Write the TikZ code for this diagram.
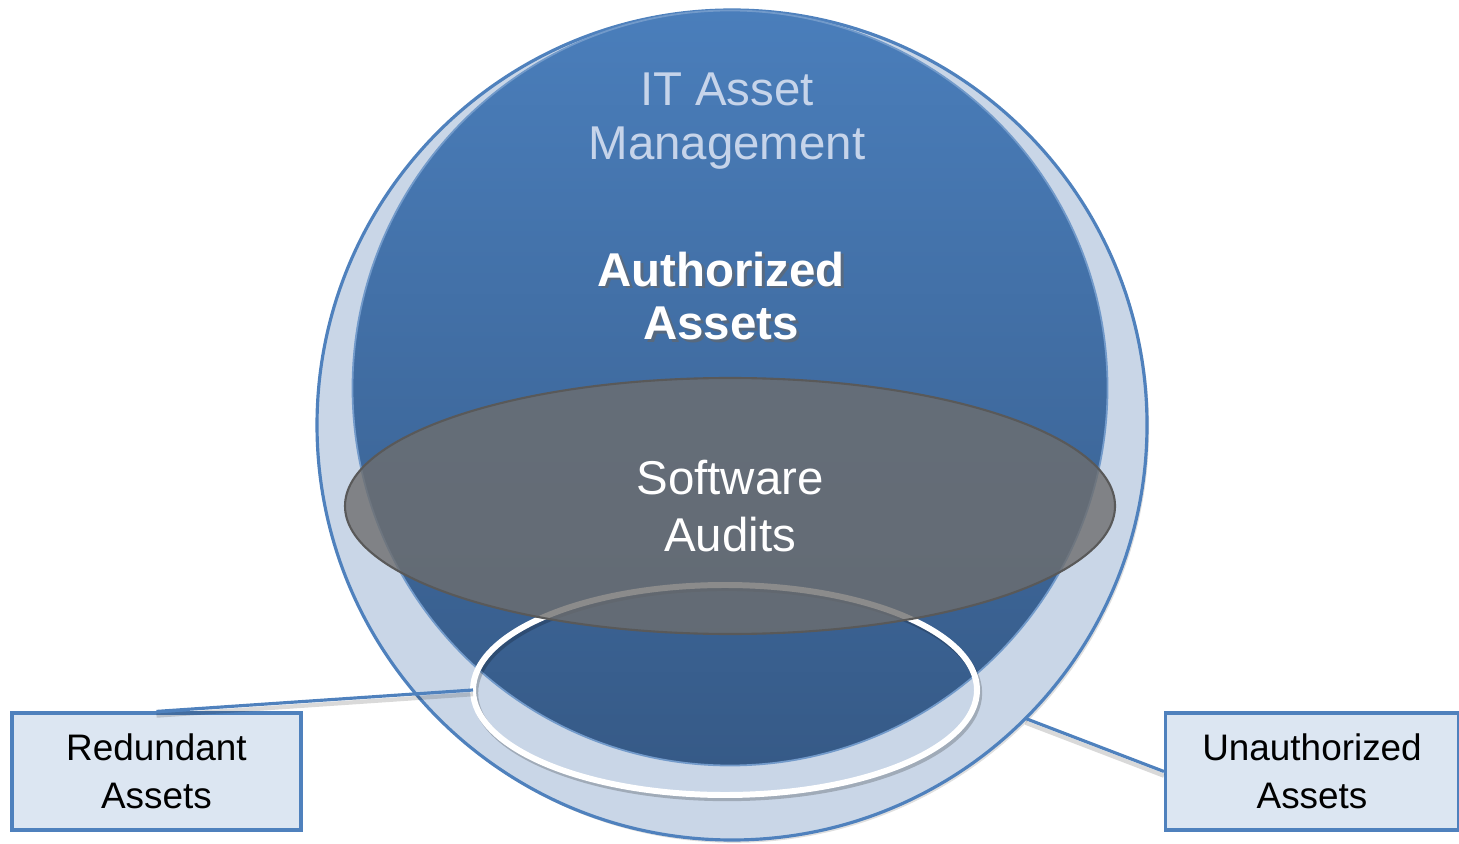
\documentclass[tikz,border=0pt]{standalone}
\usepackage{fontspec}
\setmainfont{Liberation Sans}
\usepackage{tikz}
\usetikzlibrary{positioning,shapes.geometric,shadows}
\definecolor{itblue}{HTML}{4F81BD}
\definecolor{ringfill}{HTML}{C9D6E7}
\definecolor{boxfill}{HTML}{DCE6F2}
\definecolor{authtop}{HTML}{4A7EBB}
\definecolor{authbot}{HTML}{365A87}
\definecolor{audgray}{HTML}{6E6E6E}
\definecolor{itamtext}{HTML}{C6D4EA}

\begin{document}
\begin{tikzpicture}[
    bigtext/.style={font={\fontsize{13.5}{15.2}\selectfont}, align=center},
    boxtext/.style={font={\fontsize{10.5}{13.6}\selectfont}, align=center},
    labelbox/.style={draw=itblue, line width=0.9pt, fill=boxfill, boxtext,
          minimum width=2.89cm, minimum height=1.17cm, inner sep=0pt},
    link/.style={itblue, line width=0.9pt}
  ]
    \useasboundingbox (0,0) rectangle (14.59,8.43);
    % outer ring
    \node[circle, draw=itblue, line width=0.9pt, fill=ringfill,
          minimum size=8.30cm, inner sep=0pt, outer sep=0pt,
          drop shadow={shadow xshift=0.6pt, shadow yshift=-0.8pt, opacity=0.25}]
          (itam) at (7.32,4.18) {};
    % authorized disc
    \node[circle, draw=itblue!80, line width=0.5pt, top color=authtop, bottom color=authbot,
          minimum size=7.55cm, inner sep=0pt, outer sep=0pt]
          (auth) at (7.30,4.55) {};
    % redundant ring (shadow first)
    \draw[black, opacity=0.2, line width=1.8pt] (7.27,1.50) ellipse (2.52cm and 1.05cm);
    \node[ellipse, draw=white, line width=1.7pt, minimum width=5.04cm,
          minimum height=2.10cm, inner sep=0pt, outer sep=0pt]
          (redring) at (7.25,1.53) {};
    % audits ellipse
    \node[ellipse, draw=black!65, line width=0.6pt, fill=audgray, fill opacity=0.8,
          text opacity=1, text=white, bigtext, font={\fontsize{13.5}{16.2}\selectfont},
          minimum width=7.70cm, minimum height=2.56cm, inner sep=0pt, outer sep=0pt]
          (audits) at (7.30,3.37) {Software\\Audits};
    \node[bigtext, text=itamtext] (itamlabel) at (7.27,7.22) {IT Asset\\Management};
    \node[bigtext, text=black!60, opacity=0.6] at (7.24,5.445) {\bfseries Authorized\\\bfseries Assets};
    \node[bigtext, text=white] (authlabel) at (7.21,5.47) {\bfseries Authorized\\\bfseries Assets};
    % callouts
    \node[labelbox] (redundant) at (1.565,0.715) {Redundant\\Assets};
    \node[labelbox, minimum width=2.93cm] (unauth) at (13.12,0.715) {Unauthorized\\Assets};
    \draw[black, opacity=0.15, line width=1.2pt] ([yshift=-1.2pt]redundant.north) -- ([yshift=-1.2pt]redring.west);
    \draw[link] (redundant.north) -- (redring.west);
    \draw[black, opacity=0.15, line width=1.2pt] ([yshift=-1.2pt]unauth.west) -- ([yshift=-1.2pt]itam.-45);
    \draw[link] (unauth.west) -- (itam.-45);
\end{tikzpicture}
\end{document}
